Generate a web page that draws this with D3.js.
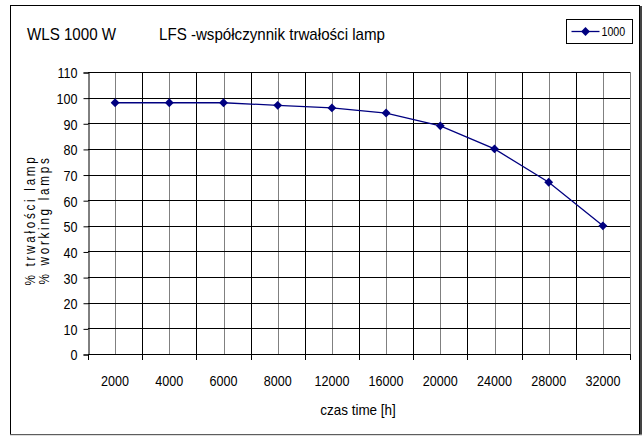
<!DOCTYPE html>
<html lang="pl">
<head>
  <meta charset="utf-8">
  <title>WLS 1000 W - LFS</title>
  <script src="https://d3js.org/d3.v7.min.js"></script>
  <style>
    body {
      margin: 0;
      background: #fff;
    }
    svg {
      display: block;
      font-family: "Liberation Sans", Arial, sans-serif;
    }
  </style>
</head>
<body>
  <svg id="chart"></svg>

  <script>
    // dane z wykresu
    const categories = ["2000", "4000", "6000", "8000", "12000", "16000", "20000", "24000", "28000", "32000"];
    const values = [98, 98, 98, 97, 96, 94, 89, 80, 67, 50];
    const yTicks = [0, 10, 20, 30, 40, 50, 60, 70, 80, 90, 100, 110];
    const seriesName = "1000";

    const width = 644, height = 436;
    const plot = { left: 88, top: 72, right: 630, bottom: 354 };
    const navy = "#000080";
    const narrow = 0.84; // tekst w oryginale jest zwężony

    const svg = d3.select("#chart")
      .attr("width", width)
      .attr("height", height);

    // tekst zwężony w poziomie
    function label(parent, x, y, txt, size, sx, anchor) {
      return parent.append("text")
        .attr("transform", `translate(${x},${y}) scale(${sx},1)`)
        .attr("text-anchor", anchor || "start")
        .attr("font-size", size)
        .attr("fill", "#000")
        .text(txt);
    }

    // ramka wykresu
    svg.append("rect")
      .attr("x", 10.5).attr("y", 5.5)
      .attr("width", 629).attr("height", 429)
      .attr("fill", "#fff")
      .attr("stroke", "#000");
    svg.append("line")
      .attr("x1", 641).attr("y1", 6).attr("x2", 641).attr("y2", 435)
      .attr("stroke", "#444").attr("stroke-width", 2);
    svg.append("line")
      .attr("x1", 10).attr("y1", 435).attr("x2", 642).attr("y2", 435)
      .attr("stroke", "#bbb").attr("stroke-width", 1);

    const x = d3.scaleBand()
      .domain(categories)
      .range([plot.left, plot.right]);

    const y = d3.scaleLinear()
      .domain([0, 110])
      .range([plot.bottom, plot.top]);

    const grid = svg.append("g");

    // pionowe linie siatki: środek kategorii (szare) i granice (czarne)
    grid.selectAll(".vmid")
      .data(categories)
      .join("line")
      .attr("x1", d => Math.round(x(d) + x.bandwidth() / 2) + 0.5)
      .attr("x2", d => Math.round(x(d) + x.bandwidth() / 2) + 0.5)
      .attr("y1", plot.top).attr("y2", plot.bottom)
      .attr("stroke", "#808080");

    grid.selectAll(".vbound")
      .data(categories.slice(1))
      .join("line")
      .attr("x1", d => Math.round(x(d)) + 0.5)
      .attr("x2", d => Math.round(x(d)) + 0.5)
      .attr("y1", plot.top).attr("y2", plot.bottom)
      .attr("stroke", "#000");

    // poziome linie siatki
    grid.selectAll(".h")
      .data(yTicks)
      .join("line")
      .attr("x1", plot.left).attr("x2", plot.right)
      .attr("y1", d => Math.round(y(d)) + 0.5)
      .attr("y2", d => Math.round(y(d)) + 0.5)
      .attr("stroke", "#000");

    // prawa krawędź obszaru
    svg.append("line")
      .attr("x1", plot.right + 0.5).attr("x2", plot.right + 0.5)
      .attr("y1", plot.top).attr("y2", plot.bottom)
      .attr("stroke", "#808080");

    // oś Y
    const yAxis = svg.append("g")
      .attr("transform", `translate(${plot.left + 0.5},0.5)`)
      .call(d3.axisLeft(y).tickValues(yTicks).tickSize(5).tickPadding(5));
    yAxis.select(".domain").attr("stroke", "#000");
    yAxis.selectAll("line").attr("stroke", "#000");
    yAxis.selectAll("text")
      .attr("x", 0)
      .attr("dy", "0.36em")
      .attr("transform", `translate(-11,0) scale(${narrow},1)`)
      .attr("font-size", 15)
      .attr("font-family", "'Liberation Sans', Arial, sans-serif")
      .attr("fill", "#000");

    // oś X - znaczniki na granicach kategorii
    const xAxis = svg.append("g");
    xAxis.append("line")
      .attr("x1", plot.left).attr("x2", plot.right + 1)
      .attr("y1", plot.bottom + 0.5).attr("y2", plot.bottom + 0.5)
      .attr("stroke", "#000");
    const bounds = categories.map(d => x(d)).concat([plot.right]);
    xAxis.selectAll(".tick")
      .data(bounds)
      .join("line")
      .attr("x1", d => Math.round(d) + 0.5)
      .attr("x2", d => Math.round(d) + 0.5)
      .attr("y1", plot.bottom).attr("y2", plot.bottom + 6)
      .attr("stroke", "#000");
    categories.forEach(c => {
      label(xAxis, x(c) + x.bandwidth() / 2, 386, c, 15, narrow, "middle");
    });

    // linia serii
    const line = d3.line()
      .x((d, i) => x(categories[i]) + x.bandwidth() / 2)
      .y(d => y(d));

    svg.append("path")
      .attr("d", line(values))
      .attr("fill", "none")
      .attr("stroke", navy)
      .attr("stroke-width", 1.3);

    const diamond = d3.symbol().type(d3.symbolDiamond2).size(50);
    svg.selectAll(".pt")
      .data(values)
      .join("path")
      .attr("transform", (d, i) => `translate(${x(categories[i]) + x.bandwidth() / 2},${y(d)})`)
      .attr("d", diamond)
      .attr("fill", navy);

    // tytuły
    label(svg, 27, 40, "WLS 1000 W", 17, 0.89);
    label(svg, 159, 40, "LFS -współczynnik trwałości lamp", 17, 0.89);
    label(svg, 358, 415, "czas time [h]", 15, 0.9, "middle");

    const yTitle = svg.append("text")
      .attr("transform", `translate(0,220) rotate(-90) scale(${narrow},1)`)
      .attr("text-anchor", "middle")
      .attr("font-size", 14)
      .attr("letter-spacing", 3.2);
    yTitle.append("tspan").attr("x", 0).attr("y", 35).text("% trwałości lamp");
    yTitle.append("tspan").attr("x", 0).attr("y", 49).text("% working lamps");

    // legenda
    const legend = svg.append("g").attr("transform", "translate(566.5,19.5)");
    legend.append("rect")
      .attr("width", 66).attr("height", 24)
      .attr("fill", "#fff").attr("stroke", "#000");
    legend.append("line")
      .attr("x1", 5).attr("x2", 33).attr("y1", 12).attr("y2", 12)
      .attr("stroke", navy).attr("stroke-width", 1.3);
    legend.append("path")
      .attr("transform", "translate(19,12)")
      .attr("d", diamond)
      .attr("fill", navy);
    label(legend, 35, 16.5, seriesName, 13, 0.82);
  </script>
</body>
</html>
